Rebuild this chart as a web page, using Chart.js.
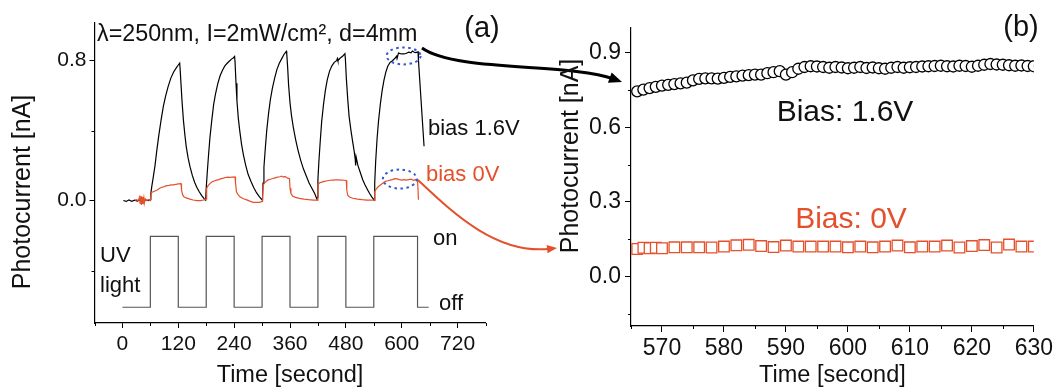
<!DOCTYPE html>
<html>
<head>
<meta charset="utf-8">
<script src="https://cdn.jsdelivr.net/npm/chart.js@4.4.1/dist/chart.umd.min.js"></script>
<style>
  html, body { margin: 0; padding: 0; background: #fff; }
  .wrap { position: relative; width: 1056px; height: 391px; }
  .layer { position: absolute; left: 0; top: 0; width: 1056px; height: 391px; }
</style>
</head>
<body>
<div class="wrap">
  <div class="layer"><canvas id="chartA"></canvas></div>
  <div class="layer"><canvas id="chartB"></canvas></div>
</div>
<script>
// ---- panel (a): photocurrent vs time, 5 UV on/off cycles ----
const blackTime = [2, 8, 14, 20, 26, 32, 38, 44, 50, 56, 60,
  61, 63, 66, 70, 74, 78, 83, 88, 93, 98, 104, 110, 116, 120, 123,
  124, 126, 128, 131, 134, 137, 141, 145, 150, 155, 160, 165, 170, 175, 178,
  179, 180, 182, 185, 188, 192, 196, 200, 205, 210, 215, 220, 225, 230, 235, 238, 241,
  242, 244, 246, 249, 252, 256, 260, 265, 270, 276, 282, 288, 294, 300,
  301, 302, 304, 307, 310, 314, 318, 322, 327, 332, 337, 342, 347, 350, 352,
  353, 355, 357, 360, 363, 367, 372, 377, 383, 389, 395, 401, 407, 413, 418,
  419, 420, 422, 425, 428, 432, 436, 440, 445, 450, 455, 460, 462, 463, 468, 473, 478,
  479, 481, 484, 487, 491, 495, 498, 500, 501, 502, 506, 511, 516, 521, 526, 531, 536, 541,
  542, 544, 547, 550, 554, 558, 562, 566, 570, 575, 580, 585, 589, 590, 593, 597, 600,
  605, 610, 615, 620, 623, 627, 630, 635, 636, 648];
const blackCurrent = [0.000, -0.005, 0.003, -0.004, 0.002, -0.003, 0.004, -0.002, 0.003, 0.000, 0.005,
  0.04, 0.08, 0.13, 0.20, 0.29, 0.37, 0.46, 0.54, 0.60, 0.65, 0.70, 0.735, 0.76, 0.775, 0.786,
  0.75, 0.66, 0.57, 0.46, 0.38, 0.31, 0.245, 0.195, 0.145, 0.105, 0.075, 0.05, 0.03, 0.012, 0.003,
  0.01, 0.07, 0.15, 0.26, 0.36, 0.46, 0.55, 0.61, 0.67, 0.715, 0.745, 0.77, 0.785, 0.798, 0.81, 0.815, 0.824,
  0.79, 0.67, 0.57, 0.47, 0.40, 0.32, 0.26, 0.20, 0.15, 0.11, 0.075, 0.045, 0.022, 0.004,
  0.02, 0.10, 0.19, 0.30, 0.40, 0.50, 0.58, 0.64, 0.70, 0.75, 0.785, 0.81, 0.835, 0.845, 0.853,
  0.84, 0.76, 0.66, 0.56, 0.49, 0.42, 0.35, 0.29, 0.23, 0.18, 0.14, 0.10, 0.07, 0.04, 0.008,
  0.02, 0.12, 0.22, 0.34, 0.45, 0.55, 0.63, 0.69, 0.74, 0.77, 0.79, 0.80, 0.812, 0.80, 0.815, 0.825, 0.84,
  0.81, 0.70, 0.58, 0.48, 0.40, 0.33, 0.28, 0.24, 0.20, 0.25, 0.20, 0.16, 0.12, 0.09, 0.065, 0.04, 0.02, 0.003,
  0.10, 0.22, 0.35, 0.45, 0.55, 0.63, 0.69, 0.735, 0.768, 0.79, 0.799, 0.812, 0.826, 0.812, 0.843, 0.84, 0.838,
  0.838, 0.842, 0.848, 0.844, 0.855, 0.848, 0.846, 0.85, 0.80, 0.31];

const redTime = [27, 30, 34, 37, 38, 40, 41, 43, 44, 46, 47, 49, 52, 56, 60,
  61, 62, 66, 70, 75, 80, 85, 90, 95, 100, 105, 110, 115, 120, 126,
  127, 129, 132, 137, 145, 152, 160, 168, 174, 179,
  180, 181, 184, 188, 192, 197, 202, 207, 212, 217, 222, 226, 231, 236, 242,
  243, 245, 248, 253, 260, 267, 275, 281, 288, 295, 300,
  301, 302, 305, 309, 313, 318, 323, 328, 333, 338, 342, 345, 350, 355, 359,
  360, 362, 366, 372, 380, 390, 400, 410, 418,
  419, 420, 423, 428, 434, 440, 446, 452, 458, 464, 470, 476, 481,
  482, 484, 488, 495, 505, 515, 525, 535, 541,
  542, 545, 550, 555, 560, 565, 570, 575, 580, 585, 590, 595, 600, 605, 610, 615,
  620, 625, 630, 634, 636];
const redCurrent = [0.000, 0.005, 0.000, 0.02, -0.02, 0.025, -0.025, 0.02, -0.02, 0.015, -0.015, 0.01, 0.000, 0.005, 0.000,
  0.000, 0.045, 0.05, 0.055, 0.06, 0.07, 0.076, 0.08, 0.085, 0.087, 0.09, 0.09, 0.093, 0.095, 0.096,
  0.06, 0.035, 0.022, 0.015, 0.008, 0.003, 0.000, 0.000, 0.003, 0.008,
  0.01, 0.07, 0.085, 0.097, 0.106, 0.112, 0.117, 0.12, 0.125, 0.128, 0.132, 0.134, 0.133, 0.134, 0.135,
  0.10, 0.05, 0.035, 0.02, 0.01, 0.004, -0.005, -0.01, -0.01, -0.01, -0.005,
  0.000, 0.085, 0.10, 0.11, 0.118, 0.122, 0.126, 0.13, 0.134, 0.136, 0.14, 0.135, 0.137, 0.128, 0.125,
  0.07, 0.04, 0.025, 0.018, 0.012, 0.008, 0.005, 0.003, 0.003,
  0.003, 0.09, 0.10, 0.105, 0.11, 0.113, 0.116, 0.117, 0.118, 0.118, 0.117, 0.116, 0.115,
  0.06, 0.03, 0.02, 0.013, 0.008, 0.005, 0.003, 0.002, 0.002,
  0.05, 0.065, 0.08, 0.09, 0.10, 0.11, 0.113, 0.117, 0.12, 0.125, 0.124, 0.12, 0.117, 0.12, 0.117, 0.12,
  0.122, 0.116, 0.12, 0.12, 0.005];

// UV lamp switching (state holds until next time)
const uvTime = [0, 60, 120, 180, 240, 300, 360, 420, 480, 540, 634, 658];
const uvState = ['off', 'on', 'off', 'on', 'off', 'on', 'off', 'on', 'off', 'on', 'off', 'off'];
const uvLevel = { on: -0.205, off: -0.61 };

const aTimeLabels = [0, 120, 240, 360, 480, 600, 720];
const aCurrentTicks = [-0.4, 0.0, 0.4, 0.8];
const aCurrentLabels = [0.0, 0.8];

// ---- panel (b): zoom on the last plateau ----
const bTimeBlack = [566, 567, 568, 569, 570, 571, 572, 573, 574, 575, 576, 577, 578, 579, 580,
  581, 582, 583, 584, 585, 586, 587, 588, 589, 590, 591, 592, 593, 594, 595, 596, 597, 598, 599, 600,
  601, 602, 603, 604, 605, 606, 607, 608, 609, 610, 611, 612, 613, 614, 615, 616, 617, 618, 619, 620,
  621, 622, 623, 624, 625, 626, 627, 628, 629, 630];
const bCurrentBlack = [0.745, 0.752, 0.758, 0.763, 0.768, 0.771, 0.774, 0.777, 0.780, 0.789, 0.795, 0.797, 0.797, 0.796, 0.799,
  0.803, 0.805, 0.808, 0.810, 0.812, 0.812, 0.818, 0.822, 0.826, 0.812, 0.822, 0.836, 0.843, 0.846, 0.845, 0.843, 0.840, 0.843, 0.841, 0.838,
  0.840, 0.843, 0.839, 0.841, 0.838, 0.836, 0.840, 0.843, 0.840, 0.842, 0.843, 0.845, 0.846, 0.847, 0.848, 0.846, 0.845, 0.848, 0.847, 0.844,
  0.848, 0.852, 0.855, 0.853, 0.852, 0.850, 0.848, 0.849, 0.847, 0.846];
const bTimeRed = [566, 567, 568, 569, 570, 572, 574, 576, 578, 580, 582, 584, 586, 588, 590, 592, 594, 596, 598,
  600, 602, 604, 606, 608, 610, 612, 614, 616, 618, 620, 622, 624, 626, 628, 630];
const bCurrentRed = [0.11, 0.115, 0.113, 0.115, 0.113, 0.117, 0.117, 0.117, 0.116, 0.12, 0.125, 0.127, 0.122, 0.118, 0.124, 0.12, 0.12, 0.12, 0.12,
  0.117, 0.12, 0.117, 0.12, 0.124, 0.117, 0.12, 0.12, 0.124, 0.116, 0.122, 0.126, 0.116, 0.128, 0.12, 0.12];

const bTimeLabels = [570, 580, 590, 600, 610, 620, 630];
const bCurrentTicks = [-0.15, 0.0, 0.15, 0.3, 0.45, 0.6, 0.75, 0.9];
const bCurrentLabels = [0.0, 0.3, 0.6, 0.9];

const FONT = "'Liberation Sans', Arial, sans-serif";
const RED = "#e4502c";
const INK = "#111";

Chart.defaults.font.family = FONT;
Chart.defaults.color = INK;

const pairs = (xs, ys) => xs.map((x, i) => ({ x: x, y: ys[i] }));
const hasLabel = (list, v) => list.some((l) => Math.abs(l - v) < 1e-6);
const setTicks = (list) => (s) => { s.ticks = list.map((v) => ({ value: v })); };
// major ticks drawn by Chart.js, unlabeled ones hidden there and redrawn short
const tickInk = (list) => (c) => (c.tick && hasLabel(list, c.tick.value) ? "#000" : "rgba(0,0,0,0)");

const minorTicks = {
  id: "minorTicks",
  afterDraw(chart) {
    const ctx = chart.ctx;
    ctx.save();
    ctx.strokeStyle = "#000";
    ctx.lineWidth = 1;
    Object.values(chart.scales).forEach((s) => {
      s.ticks.forEach((t, i) => {
        if (t.label !== "") return;
        const p = Math.round(s.getPixelForTick(i)) + 0.5;
        ctx.beginPath();
        if (s.isHorizontal()) {
          ctx.moveTo(p, s.top);
          ctx.lineTo(p, s.top + 3);
        } else {
          ctx.moveTo(s.right - 3, p);
          ctx.lineTo(s.right, p);
        }
        ctx.stroke();
      });
    });
    ctx.restore();
  },
};

function curveArrow(ctx, pts, color, width, head) {
  const [p0, p1, p2, p3] = pts;
  const ang = Math.atan2(p3[1] - p2[1], p3[0] - p2[0]);
  const c = Math.cos(ang), s = Math.sin(ang);
  ctx.strokeStyle = color;
  ctx.lineWidth = width;
  ctx.beginPath();
  ctx.moveTo(p0[0], p0[1]);
  ctx.bezierCurveTo(p1[0], p1[1], p2[0], p2[1], p3[0] - c * head * 0.7, p3[1] - s * head * 0.7);
  ctx.stroke();
  ctx.fillStyle = color;
  ctx.beginPath();
  ctx.moveTo(p3[0], p3[1]);
  ctx.lineTo(p3[0] - head * c + head * 0.42 * s, p3[1] - head * s - head * 0.42 * c);
  ctx.lineTo(p3[0] - head * c - head * 0.42 * s, p3[1] - head * s + head * 0.42 * c);
  ctx.closePath();
  ctx.fill();
}

const notesA = {
  id: "notesA",
  afterDraw(chart) {
    const ctx = chart.ctx;
    const xs = chart.scales.x, ys = chart.scales.y;
    ctx.save();
    ctx.fillStyle = INK;
    ctx.textBaseline = "alphabetic";

    // y axis title
    ctx.save();
    ctx.font = `25px ${FONT}`;
    ctx.textAlign = "center";
    ctx.textBaseline = "middle";
    ctx.translate(23, 192);
    ctx.rotate(-Math.PI / 2);
    ctx.fillText("Photocurrent [nA]", 0, 0);
    ctx.restore();

    ctx.textAlign = "left";
    ctx.font = `23.3px ${FONT}`;
    ctx.fillText("\u03bb=250nm, I=2mW/cm\u00b2, d=4mm", 97, 41);
    ctx.font = `29px ${FONT}`;
    ctx.textAlign = "center";
    ctx.fillText("(a)", 482, 37);

    ctx.textAlign = "left";
    ctx.font = `22px ${FONT}`;
    ctx.fillText("bias 1.6V", 428, 135);
    ctx.fillText("on", 433, 245);
    ctx.fillText("off", 439, 310);
    ctx.fillText("UV", 100, 262);
    ctx.fillText("light", 100, 292);
    ctx.fillStyle = RED;
    ctx.fillText("bias 0V", 426, 181);

    // dotted ellipses marking the zoomed plateau
    ctx.strokeStyle = "#3358d0";
    ctx.lineWidth = 2;
    ctx.setLineDash([2.5, 3.5]);
    ctx.beginPath();
    ctx.ellipse(xs.getPixelForValue(604), ys.getPixelForValue(0.827), 17, 8.5, 0, 0, Math.PI * 2);
    ctx.stroke();
    ctx.beginPath();
    ctx.ellipse(xs.getPixelForValue(596), ys.getPixelForValue(0.123), 17, 9.5, 0, 0, Math.PI * 2);
    ctx.stroke();
    ctx.setLineDash([]);

    // arrows to panel (b)
    curveArrow(ctx, [[422, 48], [455, 72], [570, 63], [622, 82]], "#000", 3, 13);
    curveArrow(ctx, [[418, 180], [450, 210], [495, 255], [557, 248]], RED, 2, 10);
    ctx.restore();
  },
};

const notesB = {
  id: "notesB",
  afterDraw(chart) {
    const ctx = chart.ctx;
    ctx.save();
    ctx.fillStyle = INK;
    ctx.save();
    ctx.font = `25px ${FONT}`;
    ctx.textAlign = "center";
    ctx.textBaseline = "middle";
    ctx.translate(571, 156);
    ctx.rotate(-Math.PI / 2);
    ctx.fillText("Photocurrent [nA]", 0, 0);
    ctx.restore();

    ctx.textAlign = "center";
    ctx.textBaseline = "alphabetic";
    ctx.font = `29px ${FONT}`;
    ctx.fillText("(b)", 1021, 36);
    ctx.font = `30px ${FONT}`;
    ctx.fillText("Bias: 1.6V", 845, 121);
    ctx.fillStyle = RED;
    ctx.fillText("Bias: 0V", 851, 228);
    ctx.restore();
  },
};

new Chart(document.getElementById("chartA"), {
  type: "line",
  data: {
    datasets: [
      {
        label: "bias 0V",
        data: pairs(redTime, redCurrent),
        borderColor: RED,
        borderWidth: 1.2,
        pointRadius: 0,
        order: 1,
      },
      {
        label: "bias 1.6V",
        data: pairs(blackTime, blackCurrent),
        borderColor: "#000",
        borderWidth: 1.2,
        pointRadius: 0,
        order: 2,
      },
      {
        label: "UV light",
        data: uvTime.map((t, i) => ({ x: t, y: uvLevel[uvState[i]] })),
        borderColor: "#555",
        borderWidth: 1.2,
        pointRadius: 0,
        stepped: "before",
        order: 3,
      },
    ],
  },
  options: {
    responsive: true,
    maintainAspectRatio: false,
    animation: false,
    layout: { padding: { left: 0, top: 23, right: 570.5, bottom: 0 } },
    plugins: { legend: { display: false }, tooltip: { enabled: false } },
    scales: {
      x: {
        type: "linear",
        min: -60,
        max: 780,
        afterFit: (s) => { s.height = 68; },
        grid: { drawOnChartArea: false, tickLength: 5, tickColor: tickInk(aTimeLabels) },
        border: { color: "#000", width: 1.2 },
        ticks: {
          stepSize: 60,
          autoSkip: false,
          maxRotation: 0,
          includeBounds: false,
          padding: 4,
          color: INK,
          font: { size: 21 },
          callback: (v) => (hasLabel(aTimeLabels, v) ? String(v) : ""),
        },
        title: { display: true, text: "Time [second]", color: INK, font: { size: 23.5 }, padding: { top: 0, bottom: 1 } },
      },
      y: {
        type: "linear",
        min: -0.7,
        max: 1.015,
        afterBuildTicks: setTicks(aCurrentTicks),
        afterFit: (s) => { s.width = 94.5; },
        grid: { drawOnChartArea: false, tickLength: 5, tickColor: tickInk(aCurrentLabels) },
        border: { color: "#000", width: 1.2 },
        ticks: {
          padding: 3,
          color: INK,
          font: { size: 21 },
          callback: (v) => (hasLabel(aCurrentLabels, v) ? v.toFixed(1) : ""),
        },
      },
    },
  },
  plugins: [notesA, minorTicks],
});

new Chart(document.getElementById("chartB"), {
  type: "line",
  data: {
    datasets: [
      {
        label: "Bias: 1.6V",
        data: pairs(bTimeBlack, bCurrentBlack),
        showLine: false,
        pointStyle: "circle",
        pointRadius: 5.5,
        pointBorderWidth: 1.3,
        pointBorderColor: "#000",
        pointBackgroundColor: "#fff",
        clip: 0,
      },
      {
        label: "Bias: 0V",
        data: pairs(bTimeRed, bCurrentRed),
        showLine: false,
        pointStyle: "rect",
        pointRadius: 7.5,
        pointBorderWidth: 1.3,
        pointBorderColor: RED,
        pointBackgroundColor: "#fff",
        clip: 0,
      },
    ],
  },
  options: {
    responsive: true,
    maintainAspectRatio: false,
    animation: false,
    layout: { padding: { left: 540, top: 28, right: 21, bottom: 0 } },
    plugins: { legend: { display: false }, tooltip: { enabled: false } },
    scales: {
      x: {
        type: "linear",
        min: 565,
        max: 630,
        afterFit: (s) => { s.height = 65; },
        grid: { drawOnChartArea: false, tickLength: 6, tickColor: tickInk(bTimeLabels) },
        border: { color: "#000", width: 1.2 },
        ticks: {
          stepSize: 5,
          autoSkip: false,
          maxRotation: 0,
          includeBounds: false,
          padding: 3,
          color: INK,
          font: { size: 23 },
          callback: (v) => (hasLabel(bTimeLabels, v) ? String(v) : ""),
        },
        title: { display: true, text: "Time [second]", color: INK, font: { size: 23.5 }, padding: { top: 0, bottom: 1 } },
      },
      y: {
        type: "linear",
        min: -0.2,
        max: 1.0,
        afterBuildTicks: setTicks(bCurrentTicks),
        afterFit: (s) => { s.width = 91; },
        grid: { drawOnChartArea: false, tickLength: 6, tickColor: tickInk(bCurrentLabels) },
        border: { color: "#000", width: 1.2 },
        ticks: {
          padding: 4,
          color: INK,
          font: { size: 23 },
          callback: (v) => (hasLabel(bCurrentLabels, v) ? v.toFixed(1) : ""),
        },
      },
    },
  },
  plugins: [notesB, minorTicks],
});
</script>
</body>
</html>
